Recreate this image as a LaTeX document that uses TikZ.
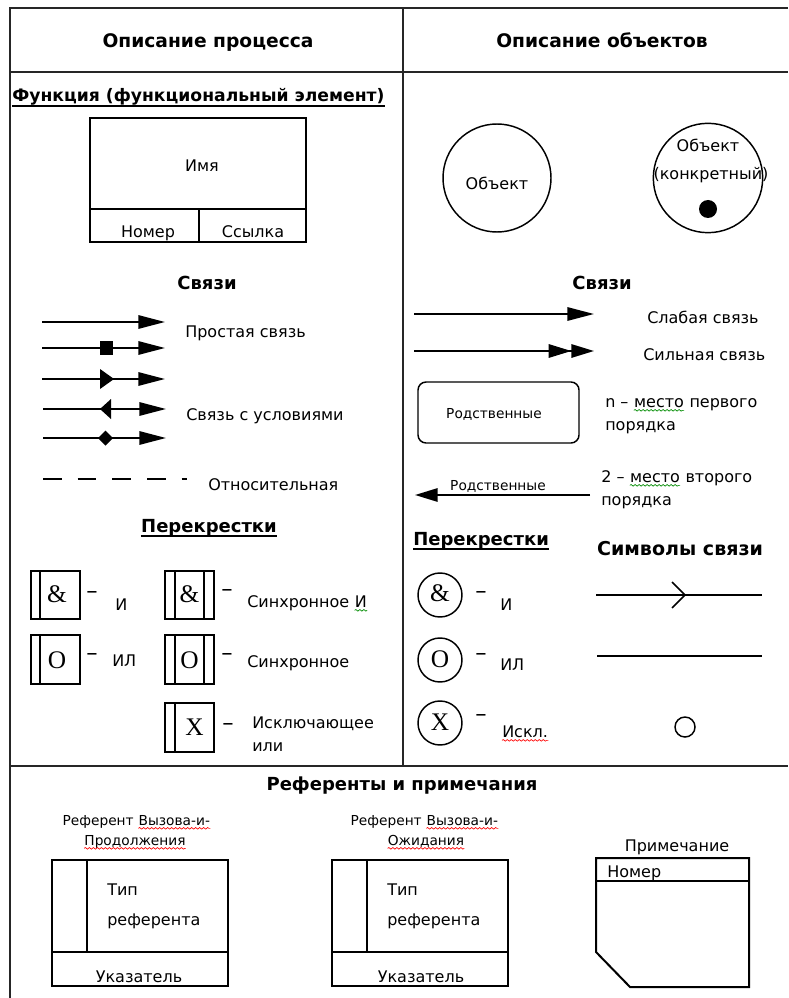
\documentclass[tikz,border=0pt]{standalone}
\usepackage{fontspec}
\setmainfont{DejaVu Sans}
\newfontfamily\symserif{Liberation Serif}
\usetikzlibrary{arrows.meta,decorations.pathmorphing}
\begin{document}
\begin{tikzpicture}[x=0.75pt,y=-0.75pt,
  frameline/.style={line width=1.5pt, black!85},
  outline/.style={line width=1.5pt},
  thin outline/.style={line width=1.1pt},
  txt/.style={inner sep=0pt, font=\fontsize{12}{14}\selectfont},
  smalltxt/.style={inner sep=0pt, font=\fontsize{10.3}{12}\selectfont},
  dashtxt/.style={inner sep=0pt, font=\fontsize{17}{18}\selectfont},
  headtxt/.style={inner sep=0pt, font=\fontsize{14}{16}\selectfont\bfseries},
  secttxt/.style={inner sep=0pt, font=\fontsize{13.5}{16}\selectfont\bfseries},
  glyph/.style={inner sep=0pt, font=\fontsize{19}{20}\selectfont\symserif},
  link/.style={line width=1.5pt, -{Triangle[length=20pt,width=10pt]}},
  squig/.style={decorate, decoration={snake, segment length=3pt, amplitude=0.6pt}, line width=0.5pt},
  ringnode/.style={circle, draw, thin outline, inner sep=0pt},
  next word/.style={anchor=base west, xshift=3.8pt},
]
\fill[white] (0,0) rectangle (788,998);
\useasboundingbox (0,0) rectangle (788,998);

% ---------- frame ----------
\draw[frameline] (10,998) -- (10,8) -- (788,8);
\draw[frameline] (10,72) -- (788,72);
\draw[frameline] (403,8) -- (403,766);
\draw[frameline] (10,766) -- (788,766);

\node[headtxt, anchor=base] (hproc) at (208,48) {Описание процесса};
\node[headtxt, anchor=base] (hobj) at (602,48) {Описание объектов};

% ---------- function element ----------
\node[secttxt, font=\fontsize{12.9}{16}\selectfont\bfseries, anchor=base west] (hfun) at (12,102) {Функция (функциональный элемент)};
\draw[line width=1pt] ([yshift=-3pt]hfun.base west) -- ([yshift=-3pt]hfun.base east);
\draw[outline] (90,118) rectangle (306,242);
\draw[outline] (90,209) -- (306,209);
\draw[outline] (199,209) -- (199,242);
\node[txt, anchor=base] (fname) at (202,172) {Имя};
\node[txt, anchor=base] (fnum) at (148,238) {Номер};
\node[txt, anchor=base] (fref) at (253,238) {Ссылка};

% ---------- objects ----------
\node[ringnode, minimum size=81pt] (obj) at (497,178) {};
\node[txt, anchor=base] (objlbl) at (497,190) {Объект};
\node[ringnode, minimum size=82pt] (cobj) at (708,178) {};
\node[txt, anchor=base] (cobjlbl1) at (708,152) {Объект};
\node[txt, anchor=base] (cobjlbl2) at (711,180) {(конкретный)};
\node[circle, fill, inner sep=0pt, minimum size=13.5pt] (cdot) at (708,209) {};

% ---------- process links ----------
\node[secttxt, anchor=base] (hlinkl) at (207,290) {Связи};
\coordinate (l1s) at (42,322);  \coordinate (l1e) at (165,322);
\coordinate (l2s) at (42,348);  \coordinate (l2e) at (165,348);
\coordinate (l3s) at (42,379);  \coordinate (l3e) at (165,379);
\coordinate (l4s) at (43,409);  \coordinate (l4e) at (166,409);
\coordinate (l5s) at (43,438);  \coordinate (l5e) at (166,438);
\draw[link] (l1s) -- (l1e);
\draw[link] (l2s) -- (l2e);
\draw[link] (l3s) -- (l3e);
\draw[link] (l4s) -- (l4e);
\draw[link] (l5s) -- (l5e);
\node[fill, inner sep=0pt, minimum size=10pt] (msq) at (106.5,348) {};
\fill (100,369) -- (114,379) -- (100,389) -- cycle;
\fill (100,409) -- (111,399) -- (111,419) -- cycle;
\fill (98,438) -- (105.5,430.5) -- (113,438) -- (105.5,445.5) -- cycle;
\coordinate (l6s) at (43,479); \coordinate (l6e) at (187,479);
\draw[line width=1.6pt, dash pattern=on 14pt off 12pt] (l6s) -- (l6e);
\node[txt, anchor=base west] (tsimple) at (185,337) {Простая связь};
\node[txt, anchor=base west] (tcond) at (186,420) {Связь с условиями};
\node[txt, anchor=base west] (trel) at (208,490) {Относительная};

% ---------- object links ----------
\node[secttxt, anchor=base] (hlinkr) at (602,290) {Связи};
\coordinate (r1s) at (414,314); \coordinate (r1e) at (594,314);
\coordinate (r2s) at (414,351); \coordinate (r2e) at (594,351);
\draw[link] (r1s) -- (r1e);
\draw[line width=1.5pt, -{Triangle[length=17pt,width=10pt] Triangle[length=17pt,width=10pt]}] (r2s) -- (r2e);
\node[txt, anchor=base west] (tweak) at (647,323) {Слабая связь};
\node[txt, anchor=base west] (tstrong) at (643,360) {Сильная связь};

\node[draw, thin outline, rounded corners=6pt, minimum width=120.75pt, minimum height=45.75pt,
      inner sep=0pt] (kinbox) at (498.5,412.5) {};
\node[smalltxt, anchor=base] (kinlbl) at (494,418) {Родственные};
\node[txt, anchor=base west] (np1) at (605,407) {n –};
\node[txt, next word] (np2) at (np1.base east) {место};
\node[txt, next word] (np3) at (np2.base east) {первого};
\node[txt, anchor=base west] (np4) at (605,430) {порядка};
\draw[squig, green!55!black] ([yshift=-2.5pt]np2.base west) -- ([yshift=-2.5pt]np2.base east);

\coordinate (r3s) at (590,495); \coordinate (r3e) at (415,495);
\draw[line width=1.5pt, -{Triangle[length=17pt,width=10pt]}] (r3s) -- (r3e);
\node[smalltxt, anchor=base] (kinlbl2) at (498,490) {Родственные};
\node[txt, anchor=base west] (sp1) at (601,482) {2 –};
\node[txt, next word] (sp2) at (sp1.base east) {место};
\node[txt, next word] (sp3) at (sp2.base east) {второго};
\node[txt, anchor=base west] (sp4) at (601,505) {порядка};
\draw[squig, green!55!black] ([yshift=-2.5pt]sp2.base west) -- ([yshift=-2.5pt]sp2.base east);

% ---------- process junctions ----------
\node[secttxt, anchor=base] (hjunl) at (209,532) {Перекрестки};
\draw[line width=1pt] ([yshift=-3pt]hjunl.base west) -- ([yshift=-3pt]hjunl.base east);
% and
\draw[outline] (31,571) rectangle (80,619); \draw[outline] (40,571) -- (40,619);
\node[glyph] (jand) at (57,594) {\&};
\node[dashtxt] (dand) at (92,595) {–};
\node[txt, anchor=base west] (tand) at (115,610) {И};
% or
\draw[outline] (31,635) rectangle (80,684); \draw[outline] (40,635) -- (40,684);
\node[glyph] (jor) at (57,660) {O};
\node[dashtxt] (dor) at (92,657) {–};
\node[txt, anchor=base west] (tor) at (112,666) {ИЛ};
% synchronous and
\draw[outline] (165,571) rectangle (214,619);
\draw[outline] (175,571) -- (175,619); \draw[outline] (204,571) -- (204,619);
\node[glyph] (jsand) at (189.5,594) {\&};
\node[dashtxt] (dsand) at (227,593) {–};
\node[txt, anchor=base west] (tsand) at (247,607) {Синхронное};
\node[txt, next word] (tsand2) at (tsand.base east) {И};
\draw[squig, green!55!black] ([yshift=-2.5pt]tsand2.base west) -- ([yshift=-2.5pt]tsand2.base east);
% synchronous or
\draw[outline] (165,635) rectangle (214,684);
\draw[outline] (175,635) -- (175,684); \draw[outline] (204,635) -- (204,684);
\node[glyph] (jsor) at (189.5,660) {O};
\node[dashtxt] (dsor) at (227,657) {–};
\node[txt, anchor=base west] (tsor) at (247,667) {Синхронное};
% exclusive or
\draw[outline] (165,703) rectangle (214,752); \draw[outline] (175,703) -- (175,752);
\node[glyph] (jxor) at (194.5,727) {X};
\node[dashtxt] (dxor) at (228,727) {–};
\node[txt, anchor=base west] (txor1) at (252,728) {Исключающее};
\node[txt, anchor=base west] (txor2) at (252,751) {или};

% ---------- object junctions ----------
\node[secttxt, anchor=base west] (hjunr) at (413,545) {Перекрестки};
\draw[line width=1pt] ([yshift=-3pt]hjunr.base west) -- ([yshift=-3pt]hjunr.base east);
\node[ringnode, minimum size=33pt] (cand) at (440,595) {};
\node[glyph] (cgand) at (440,593) {\&};
\node[ringnode, minimum size=33pt] (cor) at (440,660) {};
\node[glyph] (cgor) at (440,659) {O};
\node[ringnode, minimum size=33pt] (cxor) at (440,723) {};
\node[glyph] (cgxor) at (440,722) {X};
\node[dashtxt] (rdand) at (481,595) {–};
\node[dashtxt] (rdor) at (481,657) {–};
\node[dashtxt] (rdxor) at (481,718) {–};
\node[txt, anchor=base west] (rtand) at (500,610) {И};
\node[txt, anchor=base west] (rtor) at (500,670) {ИЛ};
\node[txt, anchor=base west] (rtxor) at (502,737) {Искл.};
\draw[squig, red] ([yshift=-2.5pt]rtxor.base west) -- ([yshift=-2.5pt]rtxor.base east);

% ---------- link symbols ----------
\node[secttxt, font=\fontsize{14.3}{16}\selectfont\bfseries, anchor=base] (hsym) at (680,555) {Символы связи};
\coordinate (s1s) at (596,595); \coordinate (s1e) at (762,595);
\draw[outline] (s1s) -- (s1e);
\draw[thin outline] (672,582) -- (685,595) -- (672,608);
\coordinate (s2s) at (597,656); \coordinate (s2e) at (762,656);
\draw[outline] (s2s) -- (s2e);
\node[ringnode, minimum size=15pt] (s3) at (685,727) {};

% ---------- referents and notes ----------
\node[secttxt, anchor=base] (href) at (402,790) {Референты и примечания};

\node[smalltxt, anchor=base east] (rc1a) at (134,825) {Референт};
\node[smalltxt, next word, xshift=-0.5pt] (rc1b) at (rc1a.base east) {Вызова-и-};
\node[smalltxt, anchor=base] (rc1c) at (135,845) {Продолжения};
\draw[squig, red] ([yshift=-2.5pt]rc1b.base west) -- ([yshift=-2.5pt]rc1b.base east);
\draw[squig, red] ([yshift=-2.5pt]rc1c.base west) -- ([yshift=-2.5pt]rc1c.base east);
\draw[outline] (52,860) rectangle (228,986);
\draw[outline] (87,860) -- (87,952);
\draw[outline] (52,952) -- (228,952);
\node[txt, anchor=base west] (rc1t1) at (107,895) {Тип};
\node[txt, anchor=base west] (rc1t2) at (107,925) {референта};
\node[txt, anchor=base] (rc1p) at (139,982) {Указатель};

\node[smalltxt, anchor=base east] (rw1a) at (422,825) {Референт};
\node[smalltxt, next word, xshift=-0.5pt] (rw1b) at (rw1a.base east) {Вызова-и-};
\node[smalltxt, anchor=base] (rw1c) at (426,845) {Ожидания};
\draw[squig, red] ([yshift=-2.5pt]rw1b.base west) -- ([yshift=-2.5pt]rw1b.base east);
\draw[squig, red] ([yshift=-2.5pt]rw1c.base west) -- ([yshift=-2.5pt]rw1c.base east);
\draw[outline] (332,860) rectangle (508,986);
\draw[outline] (367,860) -- (367,952);
\draw[outline] (332,952) -- (508,952);
\node[txt, anchor=base west] (rw1t1) at (387,895) {Тип};
\node[txt, anchor=base west] (rw1t2) at (387,925) {референта};
\node[txt, anchor=base] (rw1p) at (421,982) {Указатель};

\node[txt, anchor=base] (notet) at (677,851) {Примечание};
\draw[outline] (596,858) -- (749,858) -- (749,987) -- (630,987) -- (596,952) -- cycle;
\draw[outline] (596,881) -- (749,881);
\node[txt, anchor=base west] (noten) at (607,877) {Номер};
\end{tikzpicture}
\end{document}
